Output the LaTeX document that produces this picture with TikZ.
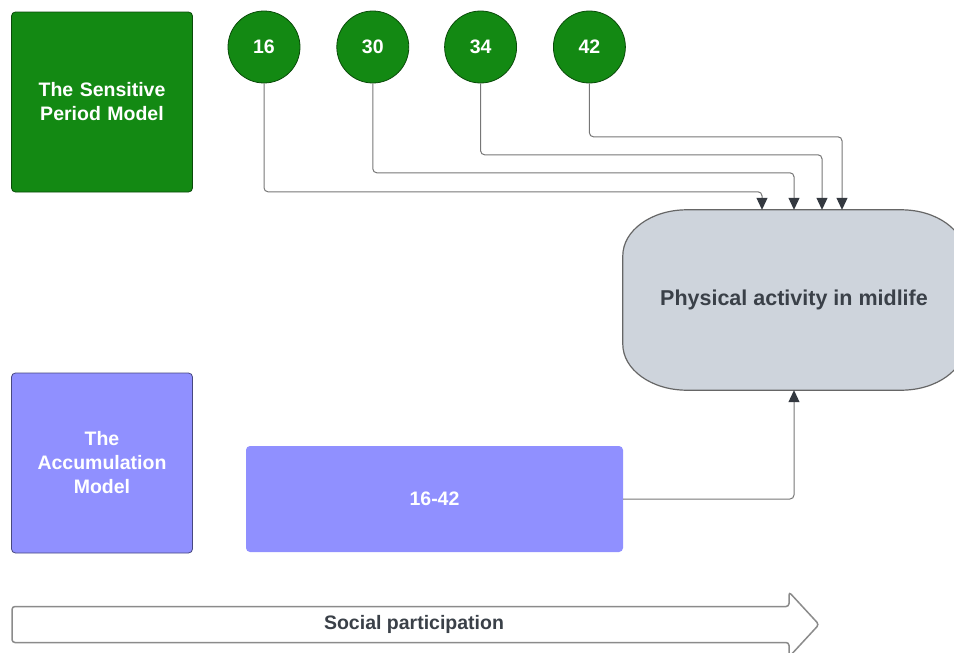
\documentclass[tikz,border=0pt]{standalone}
\usepackage{fontspec}
\setmainfont{Liberation Sans}
\usepackage{tikz}
\usetikzlibrary{arrows.meta,positioning,calc,backgrounds}
\definecolor{spgreen}{RGB}{19,137,19}
\definecolor{acpurple}{RGB}{144,144,255}
\definecolor{pagray}{RGB}{206,212,220}
\definecolor{ink}{RGB}{58,64,72}
\definecolor{wire}{RGB}{118,118,118}
\definecolor{tipc}{RGB}{52,57,64}
\tikzstyle{model}=[rectangle, rounded corners=4pt, minimum width=181pt, minimum height=180pt,
                   text width=172pt, align=center, text=white, line width=0.8pt,
                   font=\fontsize{19.5}{24}\selectfont\bfseries]
\tikzstyle{age}=[circle, fill=spgreen, draw=spgreen!55!black, line width=0.8pt,
                 minimum size=72pt, inner sep=0, text=white,
                 font=\fontsize{19.5}{24}\selectfont\bfseries]
\tikzstyle{link}=[draw=wire, line width=1pt, rounded corners=4pt,
                  -{Triangle[length=12pt,width=11pt,color=tipc]}]
\tikzstyle{sparrow}=[draw=wire!85, line width=1.5pt, rounded corners=3pt, fill=white]

\begin{document}
\begin{tikzpicture}[x=1pt,y=-1pt]
\useasboundingbox (0,0) rectangle (954,653);
% the two model boxes
\node (spm) [model, fill=spgreen, draw=spgreen!55!black] at (102,102) {The Sensitive\\Period Model\\[-6pt]};
\node (acm) [model, fill=acpurple, draw=acpurple!50!black] at (102,463) {The\\Accumulation\\Model};
% ages
\node (c16) [age] at (264,47) {16};
\node (c30) [age, right=36pt of c16] {30};
\node (c34) [age, right=35pt of c30] {34};
\node (c42) [age, right=36pt of c34] {42};
\node (span) [rectangle, rounded corners=4pt, fill=acpurple, minimum width=377pt, minimum height=106pt,
      text=white, font=\fontsize{19.5}{24}\selectfont\bfseries] at (434.5,499) {16-42};
% outcome
\node (pa) [minimum width=342pt, minimum height=180pt, text=ink,
      font=\fontsize{21.5}{26}\selectfont\bfseries] at (794,300) {Physical activity in midlife};
\begin{scope}[on background layer]
\draw[draw=black!60, line width=1.2pt, fill=pagray]
  ([xshift=64pt]pa.north west) -- ([xshift=-64pt]pa.north east)
  arc[start angle=90, end angle=0, x radius=64pt, y radius=46pt]
  -- ([yshift=46pt]pa.south east)
  arc[start angle=0, end angle=-90, x radius=64pt, y radius=46pt]
  -- ([xshift=64pt]pa.south west)
  arc[start angle=-90, end angle=-180, x radius=64pt, y radius=46pt]
  -- ([yshift=-46pt]pa.north west)
  arc[start angle=180, end angle=90, x radius=64pt, y radius=46pt] -- cycle;
\end{scope}
% connectors
\draw[link] (c16.south) |- ($(pa.north)+(-32,-18)$) -- ($(pa.north)+(-32,0)$);
\draw[link] (c30.south) |- ($(pa.north)+(0,-37)$) -- (pa.north);
\draw[link] (c34.south) |- ($(pa.north)+(28,-55)$) -- ($(pa.north)+(28,0)$);
\draw[link] (c42.south) |- ($(pa.north)+(48,-73)$) -- ($(pa.north)+(48,0)$);
\draw[link] (span.east) -| (pa.south);
% social participation arrow
\draw[sparrow] (12,606.5) -- (789,606.5) -- (789,592) -- (819,624.5) -- (789,657)
  -- (789,642.5) -- (12,642.5) -- cycle;
\node (sp) [text=ink, font=\fontsize{19.5}{24}\selectfont\bfseries] at (414,624.5) {Social participation};
\end{tikzpicture}
\end{document}
